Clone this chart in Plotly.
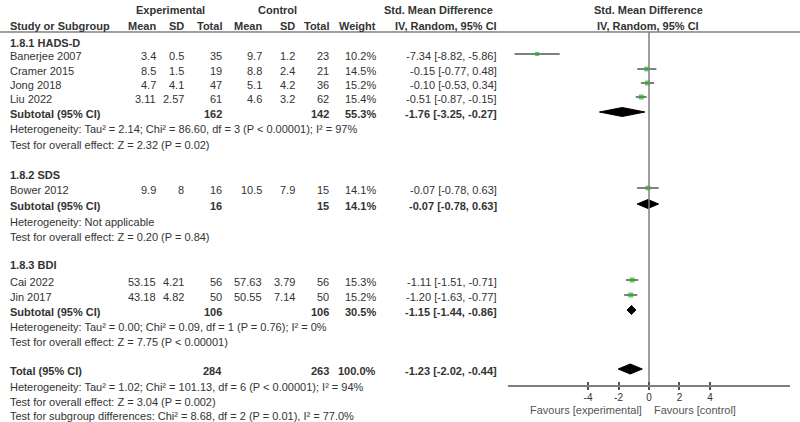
import plotly.graph_objects as go

# ---------------- data ----------------
studies = ["Banerjee 2007", "Cramer 2015", "Jong 2018", "Liu 2022", "Bower 2012", "Cai 2022", "Jin 2017"]
study_group = [0, 0, 0, 0, 1, 2, 2]
exp_mean = [3.4, 8.5, 4.7, 3.11, 9.9, 53.15, 43.18]
exp_sd = [0.5, 1.5, 4.1, 2.57, 8, 4.21, 4.82]
exp_n = [35, 19, 47, 61, 16, 56, 50]
ctl_mean = [9.7, 8.8, 5.1, 4.6, 10.5, 57.63, 50.55]
ctl_sd = [1.2, 2.4, 4.2, 3.2, 7.9, 3.79, 7.14]
ctl_n = [23, 21, 36, 62, 15, 56, 50]
weight = [10.2, 14.5, 15.2, 15.4, 14.1, 15.3, 15.2]
smd = [-7.34, -0.15, -0.10, -0.51, -0.07, -1.11, -1.20]
smd_lo = [-8.82, -0.77, -0.53, -0.87, -0.78, -1.51, -1.63]
smd_hi = [-5.86, 0.48, 0.34, -0.15, 0.63, -0.71, -0.77]

groups = ["1.8.1 HADS-D", "1.8.2 SDS", "1.8.3 BDI"]
sub_exp_n = [162, 16, 106]
sub_ctl_n = [142, 15, 106]
sub_weight = [55.3, 14.1, 30.5]
sub_smd = [-1.76, -0.07, -1.15]
sub_lo = [-3.25, -0.78, -1.44]
sub_hi = [-0.27, 0.63, -0.86]
sub_het = [
    "Heterogeneity: Tau² = 2.14; Chi² = 86.60, df = 3 (P < 0.00001); I² = 97%",
    "Heterogeneity: Not applicable",
    "Heterogeneity: Tau² = 0.00; Chi² = 0.09, df = 1 (P = 0.76); I² = 0%",
]
sub_test = [
    "Test for overall effect: Z = 2.32 (P = 0.02)",
    "Test for overall effect: Z = 0.20 (P = 0.84)",
    "Test for overall effect: Z = 7.75 (P < 0.00001)",
]

total_exp_n = 284
total_ctl_n = 263
total_weight = 100.0
total_smd = -1.23
total_lo = -2.02
total_hi = -0.44
total_notes = [
    "Heterogeneity: Tau² = 1.02; Chi² = 101.13, df = 6 (P < 0.00001); I² = 94%",
    "Test for overall effect: Z = 3.04 (P = 0.002)",
    "Test for subgroup differences: Chi² = 8.68, df = 2 (P = 0.01), I² = 77.0%",
]

tick_vals = [-4, -2, 0, 2, 4]
tick_text = ["-4", "-2", "0", "2", "4"]
favours_left = "Favours [experimental]"
favours_right = "Favours [control]"

# ---------------- layout (pixel rows) ----------------
W, H = 800, 422
group_rows = [43, 175, 265]
study_rows = [56, 71, 85, 99, 190, 282, 297]
sub_rows = [114, 206, 312]
het_rows = [129, 222, 327]
test_rows = [145, 237, 342]
total_row = 371
note_rows = [387, 402, 416]
MARK_OFF = -2

FONT = "Liberation Sans"
FS = 11
TXT = "#333333"

col_right = {"em": 157, "esd": 185, "en": 223, "cm": 263, "csd": 296, "cn": 330, "w": 377, "eff": 498}
LEFT = 9

annotations = []


def txt(x, y, s, anchor="left", bold=False, size=FS, color=TXT):
    annotations.append(dict(
        x=x / W, y=1 - y / H, xref="paper", yref="paper",
        text=f"<b>{s}</b>" if bold else s,
        xanchor=anchor, yanchor="middle", showarrow=False, borderpad=0,
        font=dict(family=FONT, size=size, color=color),
    ))


# headers
txt(170, 10, "Experimental", "center", bold=True)
txt(277, 10, "Control", "center", bold=True)
txt(438, 10, "Std. Mean Difference", "center", bold=True)
txt(648, 10, "Std. Mean Difference", "center", bold=True)
txt(LEFT, 26, "Study or Subgroup", "left", bold=True)
for key, lab in [("em", "Mean"), ("esd", "SD"), ("en", "Total"), ("cm", "Mean"),
                 ("csd", "SD"), ("cn", "Total"), ("w", "Weight"), ("eff", "IV, Random, 95% CI")]:
    txt(col_right[key], 26, lab, "right", bold=True)
txt(648, 26, "IV, Random, 95% CI", "center", bold=True)


def eff(v, l, h):
    return f"{v:.2f} [{l:.2f}, {h:.2f}]"


for i, s in enumerate(studies):
    y = study_rows[i]
    txt(LEFT, y, s)
    txt(col_right["em"], y, f"{exp_mean[i]:g}", "right")
    txt(col_right["esd"], y, f"{exp_sd[i]:g}", "right")
    txt(col_right["en"], y, f"{exp_n[i]}", "right")
    txt(col_right["cm"], y, f"{ctl_mean[i]:g}", "right")
    txt(col_right["csd"], y, f"{ctl_sd[i]:g}", "right")
    txt(col_right["cn"], y, f"{ctl_n[i]}", "right")
    txt(col_right["w"], y, f"{weight[i]:.1f}%", "right")
    txt(col_right["eff"], y, eff(smd[i], smd_lo[i], smd_hi[i]), "right")

for g, name in enumerate(groups):
    txt(LEFT, group_rows[g], name, bold=True)
    y = sub_rows[g]
    txt(LEFT, y, "Subtotal (95% CI)", bold=True)
    txt(col_right["en"], y, f"{sub_exp_n[g]}", "right", bold=True)
    txt(col_right["cn"], y, f"{sub_ctl_n[g]}", "right", bold=True)
    txt(col_right["w"], y, f"{sub_weight[g]:.1f}%", "right", bold=True)
    txt(col_right["eff"], y, eff(sub_smd[g], sub_lo[g], sub_hi[g]), "right", bold=True)
    txt(LEFT, het_rows[g], sub_het[g])
    txt(LEFT, test_rows[g], sub_test[g])

txt(LEFT, total_row, "Total (95% CI)", bold=True)
txt(col_right["en"], total_row, f"{total_exp_n}", "right", bold=True)
txt(col_right["cn"], total_row, f"{total_ctl_n}", "right", bold=True)
txt(col_right["w"], total_row, f"{total_weight:.1f}%", "right", bold=True)
txt(col_right["eff"], total_row, eff(total_smd, total_lo, total_hi), "right", bold=True)
for r, n in zip(note_rows, total_notes):
    txt(LEFT, r, n)

txt(643, 410, favours_left, "right", color="#555555")
txt(653, 410, favours_right, "left", color="#555555")

# ---------------- figure ----------------
fig = go.Figure()

# zero line (on the overlay axis so that its upward ticks get drawn)
fig.add_trace(go.Scatter(x=[0, 0], y=[32, 385], mode="lines", xaxis="x2",
                         line=dict(color="#7f7f7f", width=1.5), hoverinfo="skip"))

# studies
ys = [y + MARK_OFF for y in study_rows]
fig.add_trace(go.Scatter(
    x=smd, y=ys, mode="markers",
    marker=dict(symbol="square", color="#22b422", size=[2.5 + w * 0.16 for w in weight],
                line=dict(width=0)),
    error_x=dict(type="data", symmetric=False,
                 array=[h - v for h, v in zip(smd_hi, smd)],
                 arrayminus=[v - l for v, l in zip(smd, smd_lo)],
                 color="#555555", thickness=1.5, width=0),
    hoverinfo="skip",
))


def diamond(est, lo, hi, yc, hh):
    fig.add_trace(go.Scatter(
        x=[lo, est, hi, est, lo], y=[yc, yc - hh, yc, yc + hh, yc],
        mode="lines", fill="toself", fillcolor="black",
        line=dict(color="black", width=1), hoverinfo="skip"))


for g in range(len(groups)):
    diamond(sub_smd[g], sub_lo[g], sub_hi[g], sub_rows[g] + MARK_OFF, 4.5)
diamond(total_smd, total_lo, total_hi, total_row + MARK_OFF, 5)

XDOM = [508 / W, 790 / W]
XRANGE = [-9.25, 9.25]
fig.update_layout(
    width=W, height=H,
    margin=dict(l=0, r=0, t=0, b=0),
    paper_bgcolor="white", plot_bgcolor="white",
    showlegend=False,
    annotations=annotations,
    shapes=[dict(type="line", xref="paper", yref="paper", x0=0, x1=1,
                 y0=1 - 32 / H, y1=1 - 32 / H, line=dict(color="#7f7f7f", width=1.5))],
    xaxis=dict(domain=XDOM, range=XRANGE,
               showgrid=False, zeroline=False, showline=True,
               linecolor="#7f7f7f", linewidth=1.5,
               ticks="outside", ticklen=3, tickwidth=1.5, tickcolor="#555555",
               tickvals=tick_vals, ticktext=tick_text, ticklabelstandoff=-1,
               tickfont=dict(family=FONT, size=10, color=TXT), fixedrange=True),
    xaxis2=dict(domain=XDOM, range=XRANGE, overlaying="x", anchor="y", side="bottom",
                showgrid=False, zeroline=False, showline=False,
                ticks="inside", ticklen=3, tickwidth=1.5, tickcolor="#555555",
                tickvals=tick_vals, showticklabels=False, fixedrange=True),
    yaxis=dict(domain=[1 - 385 / H, 1], range=[385, 0], visible=False,
               showgrid=False, zeroline=False, fixedrange=True),
)

fig.write_html("out.html", config={"displayModeBar": False},
               post_script="document.body.style.margin='0px';")
